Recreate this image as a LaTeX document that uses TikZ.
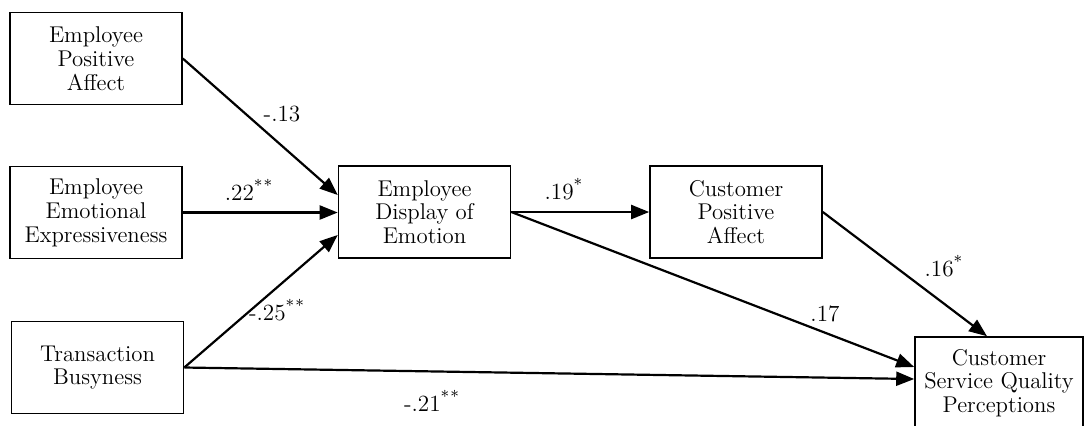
\documentclass[tikz,border=0pt]{standalone}
\usetikzlibrary{arrows.meta,calc}
\begin{document}
\begin{tikzpicture}[x=0.5pt,y=-0.5pt,
  box/.style={draw, line width=0.8pt, minimum width=86pt, minimum height=46pt, align=center, inner sep=0pt, font=\fontsize{11.4}{11.9}\selectfont},
  arr/.style={line width=1.1pt, -{Triangle[length=9pt,width=7pt]}},
  lbl/.style={font=\fontsize{11.6}{12}\selectfont, inner sep=0pt}]
\useasboundingbox (0,0) rectangle (1086,425);
\node[box] (epa) at (96,58.5) {Employee\\Positive\\Affect};
\node[box] (eee) at (96,212.5) {Employee\\Emotional\\Expressiveness};
\node[box] (tb) at (97.5,367.5) {Transaction\\Busyness};
\node[box] (ede) at (424.5,212) {Employee\\Display of\\Emotion};
\node[box] (cpa) at (736,212) {Customer\\Positive\\Affect};
\node[box, minimum width=84pt] (csqp) at (999,383) {Customer\\Service Quality\\Perceptions};
\draw[arr] (epa.east) -- ([yshift=8.5pt]ede.west);
\draw[arr] (eee.east) -- (eee.east -| ede.west);
\draw[arr] (tb.east) -- ([yshift=-11.5pt]ede.west);
\draw[arr] (ede.east) -- (cpa.west);
\draw[arr] (ede.east) -- ([yshift=8pt]csqp.west);
\draw[arr] (cpa.east) -- ([xshift=-6pt]csqp.north);
\draw[arr] (tb.east) -- ([yshift=2pt]csqp.west);
\node[lbl] (l13) at (282,114) {-.13};
\node[lbl] (l22) at (249,190) {.22\textsuperscript{*\kern0.5pt*}};
\node[lbl] (l25) at (277,310) {-.25\textsuperscript{*\kern0.5pt*}};
\node[lbl] (l19) at (564,189) {.19\textsuperscript{*}};
\node[lbl] (l16) at (944,266) {.16\textsuperscript{*}};
\node[lbl] (l17) at (825,314) {.17};
\node[lbl] (l21) at (432,401) {-.21\textsuperscript{*\kern0.5pt*}};
\end{tikzpicture}
\end{document}
